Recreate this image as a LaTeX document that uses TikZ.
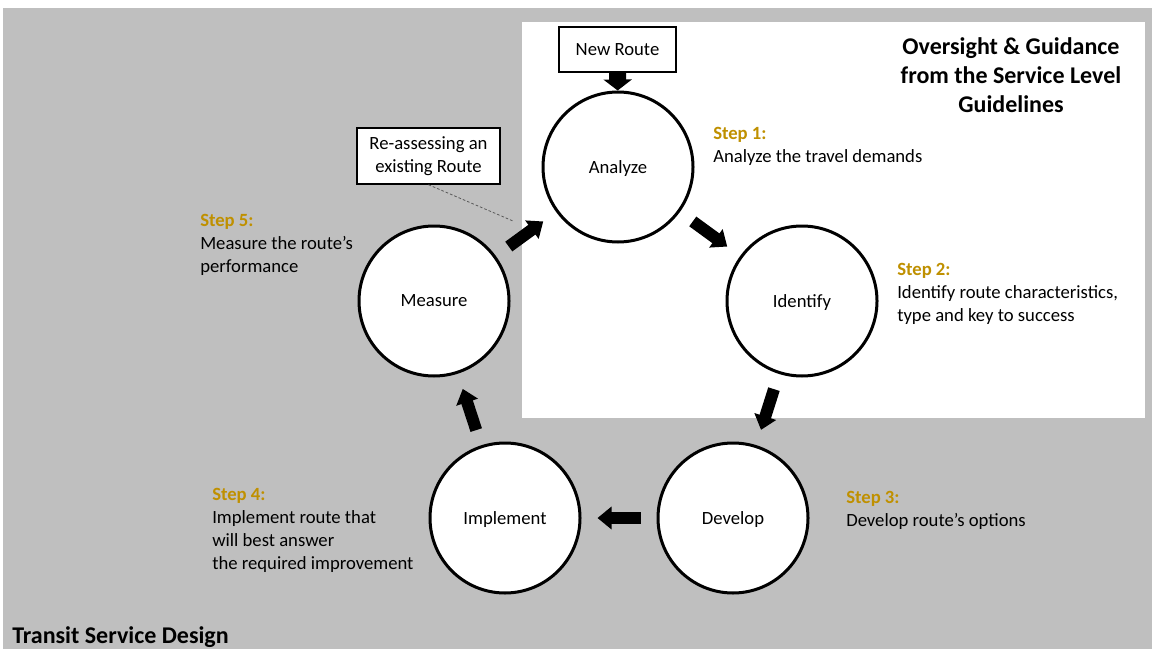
\documentclass[tikz,border=0pt]{standalone}
\usepackage{fontspec}
\setmainfont{Carlito}
\usepackage{tikz}
\usepackage{xcolor}
\usetikzlibrary{arrows.meta,positioning}
\definecolor{Slate}{HTML}{BFBFBF}
\definecolor{Gold}{HTML}{BF9000}
\definecolor{Hint}{HTML}{595959}

\begin{document}
\begin{tikzpicture}[x=0.75pt,y=-0.75pt,every node/.style={font=\fontsize{14}{17.25}\selectfont},
  stage/.style={circle,draw,line width=2.25pt,fill=white,minimum size=112.5pt,inner sep=0pt,text depth=0pt},
  note/.style={draw,line width=1.1pt,fill=white,align=center},
  steptext/.style={anchor=north west,align=left,inner sep=0pt},
  flow/.style={-{Triangle[width=16.5pt,length=10.5pt]},line width=9pt,shorten <=12pt,shorten >=12pt}]
  \useasboundingbox (0,0) rectangle (1152,649);
  \fill[Slate] (3,8) rectangle (1152,649);
  \fill[white] (522,22) rectangle (1145,418);
  \node[anchor=north,align=center,inner sep=0pt,font=\fontsize{18}{21.75}\selectfont\bfseries] (oversight) at (1011,37) {Oversight \& Guidance\\from the Service Level\\Guidelines};
  \node[anchor=base west,inner sep=0pt,font=\fontsize{18}{21.75}\selectfont\bfseries] (design) at (12,643) {Transit Service Design};
  \node[stage] (analyze) at (618,167) {Analyze};
  \node[stage] (identify) at (802,301) {Identify};
  \node[stage] (develop) at (733,518) {Develop};
  \node[stage] (implement) at (505,518) {Implement};
  \node[stage] (measure) at (434,301) {Measure};
  \node[note,minimum width=87.75pt,minimum height=33.75pt] (newroute) at (617.5,49.5) {New Route};
  \node[note,minimum width=107.25pt,minimum height=42pt] (reassess) at (428.5,156) {Re-assessing an\\existing Route};
  \coordinate (hinttip) at (513,221);
  \draw[Hint,dashed,dash pattern=on 2pt off 1.5pt,line width=0.6pt] (reassess.south) -- (hinttip);
  \draw[-{Triangle[width=21pt,length=8.25pt]},line width=12.75pt] (newroute) -- (analyze);
  \draw[flow] (analyze) -- (identify);
  \draw[flow] (identify) -- (develop);
  \draw[flow] (develop) -- (implement);
  \draw[flow] (implement) -- (measure);
  \draw[flow] (measure) -- (analyze);
  \node[steptext] (step1) at (713,127) {\textcolor{Gold}{\textbf{Step 1:}}\\Analyze the travel demands};
  \node[steptext] (step2) at (897,263) {\textcolor{Gold}{\textbf{Step 2:}}\\Identify route characteristics,\\type and key to success};
  \node[steptext] (step3) at (846,491) {\textcolor{Gold}{\textbf{Step 3:}}\\Develop route’s options};
  \node[steptext] (step4) at (212,488) {\textcolor{Gold}{\textbf{Step 4:}}\\Implement route that\\will best answer\\the required improvement};
  \node[steptext] (step5) at (200,214) {\textcolor{Gold}{\textbf{Step 5:}}\\Measure the route’s\\performance};
\end{tikzpicture}
\end{document}
